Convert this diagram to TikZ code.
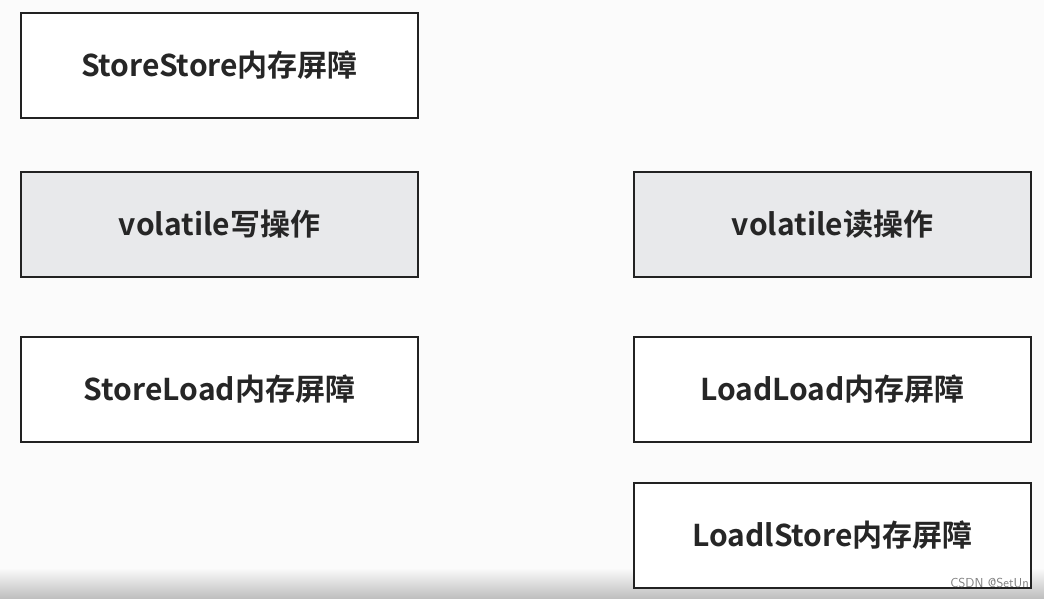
\documentclass[tikz,border=0pt]{standalone}
\usepackage{fontspec}
\newfontfamily\cjk{Noto Sans CJK SC}[BoldFont={* Bold}]
\definecolor{boxgray}{HTML}{E8E9EB}
\definecolor{edge}{HTML}{222222}
\definecolor{bg}{HTML}{FBFBFB}
\begin{document}
\begin{tikzpicture}[x=1pt,y=-1pt,
  barrier/.style={draw=edge,line width=2pt,fill=white,minimum width=397pt,minimum height=105pt,inner sep=0pt,font=\cjk\bfseries\fontsize{30}{34}\selectfont,text=black!85},
  opbox/.style={barrier,fill=boxgray}]
\useasboundingbox (0,0) rectangle (1044,598);
\fill[bg] (0,0) rectangle (1044,598);
\shade[top color=bg,bottom color=black!25] (0,568) rectangle (1044,598);
\node[barrier] (ss) at (219.5,65.5) {StoreStore内存屏障};
\node[opbox] (vw) at (219.5,224.5) {volatile写操作};
\node[barrier] (sl) at (219.5,389.5) {StoreLoad内存屏障};
\node[opbox] (vr) at (832.5,224.5) {volatile读操作};
\node[barrier] (ll) at (832.5,389.5) {LoadLoad内存屏障};
\node[barrier] (ls) at (832.5,535.5) {LoadlStore内存屏障};
\node[anchor=east,text=black!50,font=\sffamily\fontsize{13}{15}\selectfont,inner sep=0pt] (wm) at (1029,583) {CSDN @SetUn};
\end{tikzpicture}
\end{document}
